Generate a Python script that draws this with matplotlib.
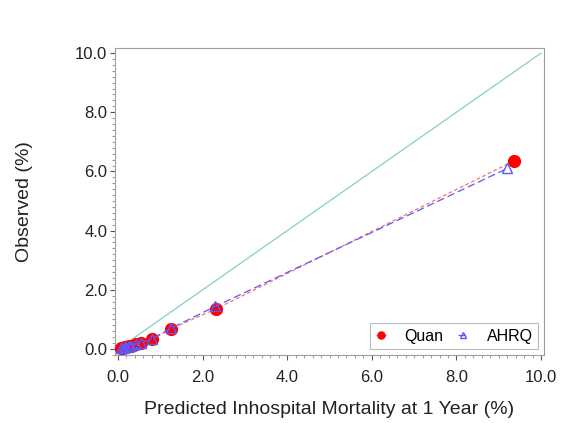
import numpy as np
import matplotlib.pyplot as plt
from matplotlib.ticker import MultipleLocator, FormatStrFormatter

# predicted vs observed mortality (%) by risk group
quan_pred = [0.08, 0.12, 0.16, 0.2, 0.25, 0.32, 0.42, 0.55, 0.8, 1.25, 2.32, 9.35]
quan_obs = [0.04, 0.05, 0.06, 0.08, 0.1, 0.12, 0.16, 0.22, 0.33, 0.68, 1.36, 6.35]
ahrq_pred = [0.08, 0.12, 0.16, 0.2, 0.25, 0.32, 0.42, 0.55, 0.8, 1.25, 2.3, 9.2]
ahrq_obs = [0.04, 0.05, 0.06, 0.08, 0.1, 0.12, 0.16, 0.22, 0.34, 0.7, 1.44, 6.1]

plt.rcParams['font.family'] = ['Liberation Sans', 'DejaVu Sans']

fig = plt.figure(figsize=(5.69, 4.23), dpi=100)
ax = fig.add_axes([0.2021, 0.1608, 0.754, 0.7257])

ax.plot([0, 10], [0, 10], color='#85cfc0', lw=0.9, zorder=1)
ax.plot(quan_pred, quan_obs, color='#ff7070', lw=0.9, ls=(0, (3, 2)),
        marker='o', ms=8.5, mfc='red', mec='red', label='Quan', zorder=3)
ax.plot(ahrq_pred, ahrq_obs, color='#5a5aff', lw=0.9, ls=(0, (6, 3)),
        marker='^', ms=7, mfc='none', mec='#5a5aff', label='AHRQ', zorder=4)

ax.set_xlim(-0.07, 10.07)
ax.set_ylim(-0.2, 10.17)
ax.xaxis.set_major_locator(MultipleLocator(2))
ax.yaxis.set_major_locator(MultipleLocator(2))
ax.xaxis.set_minor_locator(MultipleLocator(0.2))
ax.yaxis.set_minor_locator(MultipleLocator(0.2))
ax.xaxis.set_major_formatter(FormatStrFormatter('%.1f'))
ax.yaxis.set_major_formatter(FormatStrFormatter('%.1f'))
ax.tick_params(which='major', length=3.5, labelsize=12, color='#555555', labelcolor='#222222')
ax.tick_params(which='minor', length=2, color='#888888')
ax.tick_params(axis='y', which='major', pad=2)
ax.tick_params(axis='x', which='major', pad=7)
for s in ax.spines.values():
    s.set_color('#a0a0a0')

ax.set_xlabel('Predicted Inhospital Mortality at 1 Year (%)', fontsize=14, labelpad=12,
              color='#222222')
ax.set_ylabel('Observed (%)', fontsize=14, labelpad=30, color='#222222')

leg = ax.legend(loc='lower right', ncol=2, fontsize=11.5, frameon=True, fancybox=False,
                edgecolor='#aaaaaa', handlelength=0.6, handletextpad=1.2,
                borderaxespad=0.35, columnspacing=0.9, markerscale=0.6,
                borderpad=0.35)
leg.get_frame().set_linewidth(0.8)

fig.savefig('out.png', dpi=100)
